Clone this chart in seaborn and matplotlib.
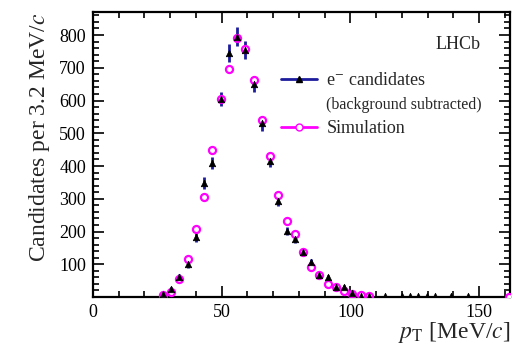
import seaborn as sns
import matplotlib.pyplot as plt
import matplotlib.ticker as mticker
from matplotlib.lines import Line2D
import pandas as pd
import numpy as np

# pT bin centres (3.2 MeV/c bins) and candidate counts
pt_data = [27.2, 30.4, 33.6, 36.8, 40.0, 43.2, 46.4, 49.6, 52.8, 56.0,
           59.2, 62.4, 65.6, 68.8, 72.0, 75.2, 78.4, 81.6, 84.8, 88.0,
           91.2, 94.4, 97.6, 100.8, 104.0, 107.2,
           113.6, 120.0, 123.2, 126.4, 129.6, 132.8, 139.2, 145.6]
n_data = [9, 24, 60, 100, 182, 349, 410, 605, 745, 795,
          755, 650, 530, 415, 293, 202, 177, 136, 107, 67,
          60, 30, 31, 12, 3, 2,
          2, 2, 2, 2, 2, 2, 2, 2]
err_data = [4, 7, 10, 12, 15, 18, 19, 22, 27, 29,
            27, 24, 22, 19, 16, 13, 12, 11, 10, 8,
            8, 6, 6, 4, 2, 2,
            1, 1, 1, 1, 1, 1, 1, 1]

pt_sim = [27.2, 30.4, 33.6, 36.8, 40.0, 43.2, 46.4, 49.6, 52.8, 56.0,
          59.2, 62.4, 65.6, 68.8, 72.0, 75.2, 78.4, 81.6, 84.8, 88.0,
          91.2, 94.4, 97.6, 100.8, 104.0, 107.2, 161.6]
n_sim = [5, 16, 55, 116, 207, 305, 450, 605, 696, 790,
         757, 663, 540, 430, 313, 232, 192, 136, 93, 67,
         40, 32, 19, 9, 5, 3, 1]

df_data = pd.DataFrame({'pt': pt_data, 'n': n_data, 'err': err_data})
df_sim = pd.DataFrame({'pt': pt_sim, 'n': n_sim})

sns.set_theme(style="ticks")
plt.rcParams['font.family'] = ['Liberation Serif', 'DejaVu Serif']
plt.rcParams['mathtext.fontset'] = 'stix'

fig = plt.figure(figsize=(5.22, 3.45), dpi=100)
ax = fig.add_axes([0.178, 0.139, 0.799, 0.826])

navy = '#1c1c9c'
magenta = '#ff00ff'

ax.errorbar(df_data['pt'], df_data['n'], yerr=df_data['err'], fmt='none',
            ecolor=navy, elinewidth=2.0, capsize=0, zorder=2)
sns.scatterplot(data=df_sim, x='pt', y='n', ax=ax, marker='o', s=26,
                facecolor='white', edgecolor=magenta, linewidth=1.6, zorder=3)
sns.scatterplot(data=df_data, x='pt', y='n', ax=ax, marker='^', s=22,
                color='black', edgecolor='black', linewidth=0.5, zorder=4)

ax.set_xlim(0, 162)
ax.set_ylim(0, 870)

ax.xaxis.set_major_locator(mticker.MultipleLocator(50))
ax.xaxis.set_minor_locator(mticker.MultipleLocator(10))
ax.yaxis.set_major_locator(mticker.FixedLocator([100, 200, 300, 400, 500, 600, 700, 800]))
ax.yaxis.set_minor_locator(mticker.MultipleLocator(20))
ax.tick_params(which='both', direction='in', top=True, right=True,
               labelsize=13, width=1.2, colors='black')
ax.tick_params(which='major', length=8, pad=5)
ax.tick_params(which='minor', length=4)
for s in ax.spines.values():
    s.set_linewidth(1.6)
    s.set_color('black')

ax.set_xlabel(r'$p_{\mathrm{T}}$ [MeV/$c$]', fontsize=17, loc='right', labelpad=-1)
ax.set_ylabel(r'Candidates per 3.2 MeV/$c$', fontsize=17, loc='top', labelpad=5)

ax.text(0.875, 0.885, 'LHCb', transform=ax.transAxes, fontsize=13,
        ha='center', va='center')

handles = [
    Line2D([], [], color=navy, lw=2, marker='^', markerfacecolor='black',
           markeredgecolor='black', markersize=5),
    Line2D([], [], color='none'),
    Line2D([], [], color=magenta, lw=2, marker='o', markerfacecolor='white',
           markeredgecolor=magenta, markersize=5),
]
labels = [r'e$^{-}$ candidates', '(background subtracted)', 'Simulation']
leg = ax.legend(handles, labels, loc='upper left', bbox_to_anchor=(0.43, 0.82),
                frameon=False, fontsize=13, handlelength=2.0, handletextpad=0.5,
                labelspacing=0.4, borderpad=0)
leg.get_texts()[1].set_fontsize(11.5)

fig.savefig("out.png", dpi=100)
